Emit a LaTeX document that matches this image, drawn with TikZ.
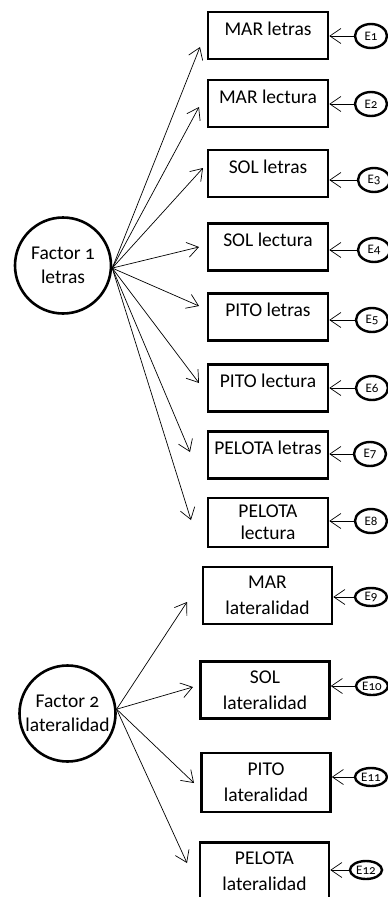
\documentclass[tikz,border=0pt]{standalone}
\usepackage{fontspec}
\setmainfont{Carlito}[Numbers=OldStyle]
\usetikzlibrary{arrows.meta,shapes.geometric}

\tikzset{
  obs/.style={draw,line width=2.6pt,minimum width=120pt,minimum height=47pt,inner sep=0pt,
    align=center,font=\fontsize{19.5}{22}\selectfont},
  oneline/.style={text height=13pt,text depth=14pt},
  obslat/.style={obs,minimum width=129pt,minimum height=57pt,font=\fontsize{19.5}{26}\selectfont},
  latent/.style={draw,circle,line width=2.6pt,minimum size=96pt,inner sep=0pt,align=center,
    font=\fontsize{19.5}{24}\selectfont},
  err/.style={draw,ellipse,line width=2.4pt,minimum width=32pt,minimum height=24pt,inner sep=0pt,
    font=\fontsize{13}{13}\selectfont},
  load/.style={-{Straight Barb[length=11pt,width=15pt]},line width=0.7pt}
}

\begin{document}
\begin{tikzpicture}[x=1pt,y=-1pt]
\useasboundingbox (0,0) rectangle (388,897);

% factores
\node[latent] (f1) at (63,265.5) {Factor 1\\letras};
\node[latent] (f2) at (67.5,713.5) {Factor 2\\lateralidad};

% variables observadas
\foreach \i/\y/\txt in {1/35.5/MAR letras,2/103.5/MAR lectura,3/173.5/SOL letras,
    4/247/SOL lectura,5/317/PITO letras,6/388/PITO lectura,7/455/PELOTA letras}
  \node[obs,oneline] (b\i) at (268,\y) {\txt};
\node[obs,minimum height=49pt] (b8) at (268,522.5) {PELOTA\\lectura};
\node[obslat] (b9) at (267.5,595.5) {MAR\\lateralidad};
\node[obslat] (b10) at (265,690) {SOL\\lateralidad};
\node[obslat,minimum height=59pt] (b11) at (266,782.5) {PITO\\lateralidad};
\node[obslat] (b12) at (264.5,871) {PELOTA\\lateralidad};

% errores
\foreach \i/\x/\y in {1/371/36,2/371/104,3/374/180,4/374/250,5/372/320,6/372/388,7/370/454,8/371/521}
  \node[err] (e\i) at (\x,\y) {E\i};
\foreach \i/\x/\y in {9/371/597,10/372/686,11/371/777,12/366/870}
  \node[err,minimum height=18pt] (e\i) at (\x,\y) {E\i};
\foreach \i in {1,...,12}
  \draw[load] (e\i) -- (e\i -| b\i.east);

% puntas de las cargas
\foreach \i/\x/\y in {1/200/47,2/199/107,3/203/168,4/199/247,5/199/306,6/199/383,
    7/190/452,8/191/520,9/187/602,10/193/687,11/194/783,12/187/863}
  \coordinate (t\i) at (\x,\y);
\foreach \i in {1,...,8}
  \draw[load] (f1.-3) -- (t\i);
\foreach \i in {9,...,12}
  \draw[load] (f2.5) -- (t\i);
\end{tikzpicture}
\end{document}
